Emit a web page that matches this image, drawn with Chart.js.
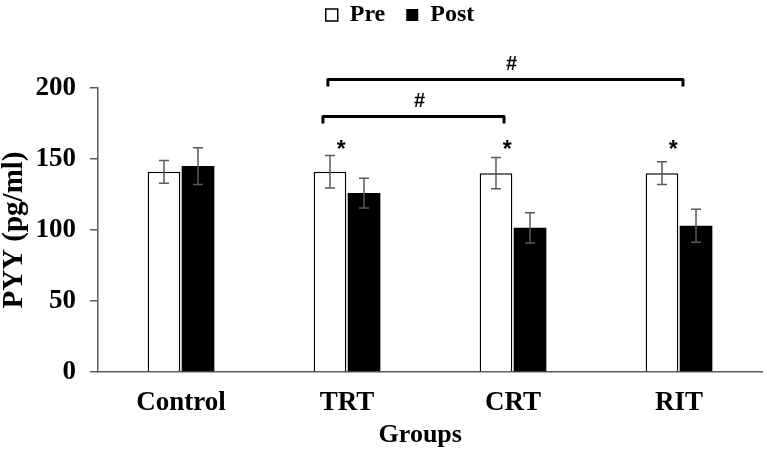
<!DOCTYPE html>
<html>
<head>
<meta charset="utf-8">
<script src="https://cdn.jsdelivr.net/npm/chart.js@4.4.1/dist/chart.umd.min.js"></script>
<style>
  html, body { margin: 0; padding: 0; background: #ffffff; }
  #wrap { width: 767px; height: 452px; position: relative; }
</style>
</head>
<body>
<div id="wrap"><canvas id="c" width="767" height="452"></canvas></div>
<script>
// ---- data ----
const categories = ['Control', 'TRT', 'CRT', 'RIT'];
const seriesNames = ['Pre', 'Post'];
const preValues = [141, 141, 140, 140];
const postValues = [145, 126, 101.5, 103];
const preErrors = [8, 11.5, 11, 8];
const postErrors = [13, 10.5, 10.7, 11.7];
const yTicks = [0, 50, 100, 150, 200];
// significance markers
const starValues = [null, 159, 159, 159];        // "*" over Pre bars
const bracketFrom = [0.855, 0.885];              // category positions
const bracketTo = [1.946, 3.024];
const bracketValues = [180, 206];
const bracketLabels = ['#', '#'];

const SERIF = '"Liberation Serif", "Times New Roman", serif';
const SANS = '"Liberation Sans", Arial, sans-serif';
const AXIS_GREY = '#5a5a5a';

const errorBarPlugin = {
  id: 'errorBars',
  afterDatasetsDraw(chart) {
    const ctx = chart.ctx;
    const y = chart.scales.y;
    const errs = [preErrors, postErrors];
    ctx.save();
    ctx.strokeStyle = AXIS_GREY;
    ctx.lineWidth = 1.5;
    chart.data.datasets.forEach((ds, i) => {
      const meta = chart.getDatasetMeta(i);
      meta.data.forEach((bar, j) => {
        const v = ds.data[j], e = errs[i][j];
        const yt = y.getPixelForValue(v + e);
        const yb = y.getPixelForValue(v - e);
        const x = bar.x, cap = 5;
        ctx.beginPath();
        ctx.moveTo(x, yt); ctx.lineTo(x, yb);
        ctx.moveTo(x - cap, yt); ctx.lineTo(x + cap, yt);
        ctx.moveTo(x - cap, yb); ctx.lineTo(x + cap, yb);
        ctx.stroke();
      });
    });
    ctx.restore();
  }
};

const annotationPlugin = {
  id: 'sigMarks',
  afterDraw(chart) {
    const ctx = chart.ctx;
    const xs = chart.scales.x, ys = chart.scales.y;
    const preMeta = chart.getDatasetMeta(0);
    ctx.save();
    ctx.fillStyle = '#000';
    ctx.textAlign = 'center';
    ctx.textBaseline = 'middle';
    // stars
    ctx.font = 'bold 23px ' + SANS;
    starValues.forEach((v, j) => {
      if (v === null) return;
      const bar = preMeta.data[j];
      const x = bar.x + bar.width / 2 - 5;
      ctx.fillText('*', x, ys.getPixelForValue(v) + 4);
    });
    // brackets
    ctx.strokeStyle = '#000';
    ctx.lineWidth = 3;
    ctx.lineJoin = 'round';
    ctx.font = 'bold 20px ' + SANS;
    bracketValues.forEach((v, k) => {
      const x1 = xs.getPixelForValue(bracketFrom[k]);
      const x2 = xs.getPixelForValue(bracketTo[k]);
      const yy = ys.getPixelForValue(v);
      ctx.beginPath();
      ctx.moveTo(x1, yy + 7);
      ctx.lineTo(x1, yy);
      ctx.lineTo(x2, yy);
      ctx.lineTo(x2, yy + 7);
      ctx.stroke();
      ctx.fillText(bracketLabels[k], (x1 + x2) / 2 + 6, yy - 15);
    });
    ctx.restore();
  }
};

const legendExtra = ['   ', '          '];

new Chart(document.getElementById('c'), {
  type: 'bar',
  data: {
    labels: categories,
    datasets: [
      {
        label: seriesNames[0],
        data: preValues,
        backgroundColor: '#ffffff',
        borderColor: '#000000',
        borderWidth: 1.5,
        categoryPercentage: 0.41,
        barPercentage: 0.96
      },
      {
        label: seriesNames[1],
        data: postValues,
        backgroundColor: '#000000',
        borderColor: '#000000',
        borderWidth: 0,
        categoryPercentage: 0.41,
        barPercentage: 0.96
      }
    ]
  },
  options: {
    responsive: false,
    animation: false,
    devicePixelRatio: 1,
    layout: { padding: { top: 0, right: 5, bottom: 0, left: 0 } },
    plugins: {
      legend: {
        display: true,
        position: 'top',
        fullSize: false,
        weight: 3000,
        labels: {
          color: '#000',
          font: { family: SERIF, size: 24, weight: 'bold' },
          boxWidth: 12,
          boxHeight: 12,
          padding: 3,
          generateLabels(chart) {
            const items = Chart.defaults.plugins.legend.labels.generateLabels(chart);
            items.forEach((it, i) => { it.text = it.text + legendExtra[i]; });
            return items;
          }
        }
      },
      title: {
        display: true,
        text: '',
        weight: 2000,
        font: { size: 10, lineHeight: 1 },
        padding: { top: 41, bottom: 0 }
      },
      tooltip: { enabled: false }
    },
    scales: {
      x: {
        grid: { display: false, drawTicks: false },
        border: { display: true, color: AXIS_GREY, width: 1.5 },
        ticks: {
          color: '#000',
          padding: 15,
          font: { family: SERIF, size: 27, weight: 'bold' }
        },
        title: {
          display: true,
          text: 'Groups   ',
          color: '#000',
          font: { family: SERIF, size: 26, weight: 'bold', lineHeight: 1.2 },
          padding: { top: 0, bottom: 1 }
        },
        afterFit(scale) { scale.height = 80; }
      },
      y: {
        min: 0,
        max: 200,
        afterBuildTicks(scale) { scale.ticks = yTicks.map(v => ({ value: v })); },
        grid: {
          display: true,
          drawOnChartArea: false,
          drawTicks: true,
          tickLength: 8,
          color: AXIS_GREY,
          lineWidth: 1.5
        },
        border: { display: true, color: AXIS_GREY, width: 1.5 },
        ticks: {
          color: '#000',
          padding: 14,
          font: { family: SERIF, size: 27, weight: 'bold' }
        },
        title: {
          display: true,
          text: 'PYY (pg/ml)',
          color: '#000',
          font: { family: SERIF, size: 29, weight: 'bold', lineHeight: 1.0 },
          padding: { top: 0, bottom: 0 }
        },
        afterFit(scale) { scale.width = 98; }
      }
    }
  },
  plugins: [errorBarPlugin, annotationPlugin]
});
</script>
</body>
</html>
